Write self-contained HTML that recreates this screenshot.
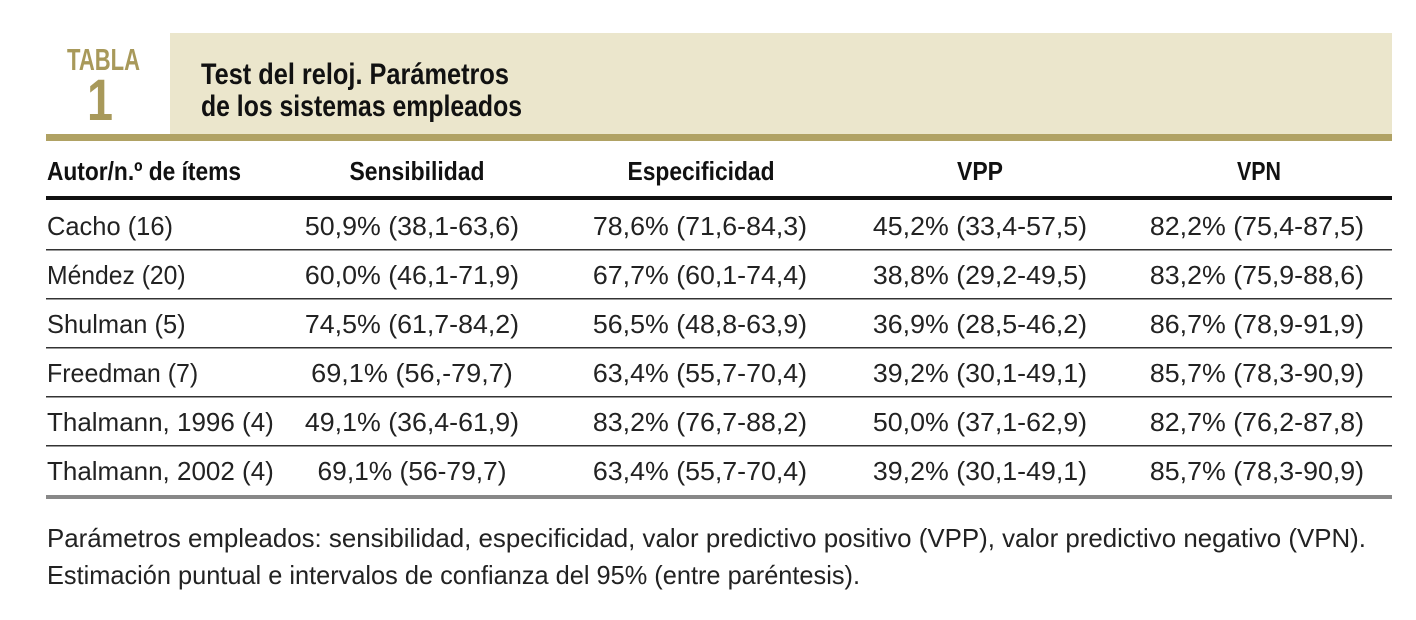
<!DOCTYPE html>
<html><head><meta charset="utf-8">
<style>
html,body{margin:0;padding:0;background:#fff;}
svg{display:block;}
text{font-family:"Liberation Sans",sans-serif;}
</style></head>
<body>
<svg width="1416" height="620" viewBox="0 0 1416 620">
  <rect x="170" y="33" width="1222" height="102" fill="#ebe6cc"/>
  <rect x="46" y="134" width="1346" height="7" fill="#b0a264"/>
  <text x="67" y="70" font-size="31" font-weight="bold" fill="#a8995a" textLength="73" lengthAdjust="spacingAndGlyphs">TABLA</text>
  <text x="100" y="120" font-size="58" font-weight="bold" fill="#a8995a" text-anchor="middle" textLength="26" lengthAdjust="spacingAndGlyphs">1</text>
  <text x="201" y="84" font-size="30" font-weight="bold" fill="#111" textLength="308" lengthAdjust="spacingAndGlyphs">Test del reloj. Parámetros</text>
  <text x="201" y="116" font-size="30" font-weight="bold" fill="#111" textLength="321" lengthAdjust="spacingAndGlyphs">de los sistemas empleados</text>

  <g font-size="26" font-weight="bold" fill="#111">
    <text x="47" y="180" textLength="194" lengthAdjust="spacingAndGlyphs">Autor/n.º de ítems</text>
    <text x="417" y="180" text-anchor="middle" textLength="135" lengthAdjust="spacingAndGlyphs">Sensibilidad</text>
    <text x="701" y="180" text-anchor="middle" textLength="147" lengthAdjust="spacingAndGlyphs">Especificidad</text>
    <text x="980" y="180" text-anchor="middle" textLength="46" lengthAdjust="spacingAndGlyphs">VPP</text>
    <text x="1259" y="180" text-anchor="middle" textLength="44" lengthAdjust="spacingAndGlyphs">VPN</text>
  </g>
  <rect x="46" y="196" width="1346" height="4" fill="#111"/>

  <g id="rows" font-size="26" fill="#222"></g>
  <rect x="46" y="495" width="1346" height="4" fill="#888"/>

  <text x="47" y="547" font-size="26" fill="#222" textLength="1319" lengthAdjust="spacingAndGlyphs">Parámetros empleados: sensibilidad, especificidad, valor predictivo positivo (VPP), valor predictivo negativo (VPN).</text>
  <text x="47" y="584" font-size="26" fill="#222" textLength="813" lengthAdjust="spacingAndGlyphs">Estimación puntual e intervalos de confianza del 95% (entre paréntesis).</text>
</svg>
<script>
const authors = ["Cacho (16)","Méndez (20)","Shulman (5)","Freedman (7)","Thalmann, 1996 (4)","Thalmann, 2002 (4)"];
const sensibilidad = ["50,9% (38,1-63,6)","60,0% (46,1-71,9)","74,5% (61,7-84,2)","69,1% (56,-79,7)","49,1% (36,4-61,9)","69,1% (56-79,7)"];
const especificidad = ["78,6% (71,6-84,3)","67,7% (60,1-74,4)","56,5% (48,8-63,9)","63,4% (55,7-70,4)","83,2% (76,7-88,2)","63,4% (55,7-70,4)"];
const vpp = ["45,2% (33,4-57,5)","38,8% (29,2-49,5)","36,9% (28,5-46,2)","39,2% (30,1-49,1)","50,0% (37,1-62,9)","39,2% (30,1-49,1)"];
const vpn = ["82,2% (75,4-87,5)","83,2% (75,9-88,6)","86,7% (78,9-91,9)","85,7% (78,3-90,9)","82,7% (76,2-87,8)","85,7% (78,3-90,9)"];
const NS="http://www.w3.org/2000/svg";
const g=document.getElementById('rows');
const top0=200, rowH=49;
const cols=[[sensibilidad,412,'sensibilidad'],[especificidad,700,'especificidad'],[vpp,980,'vpp'],[vpn,1257,'vpn']];
authors.forEach((a,i)=>{
  const base=top0+rowH*i+35;
  const t=document.createElementNS(NS,'text');
  t.setAttribute('x',47);t.setAttribute('y',base);t.textContent=a;
  t.setAttribute('textLength',a.length*12.6);t.setAttribute('lengthAdjust','spacingAndGlyphs');
  
  
  g.appendChild(t);
  cols.forEach(([arr,cx,nm])=>{
    const c=document.createElementNS(NS,'text');
    c.setAttribute('x',cx);c.setAttribute('y',base);c.setAttribute('text-anchor','middle');
    c.setAttribute('textLength',arr[i].length*12.6);c.setAttribute('lengthAdjust','spacingAndGlyphs');
    c.textContent=arr[i];
    
    
    g.appendChild(c);
  });
  if(i<authors.length-1){
    const r=document.createElementNS(NS,'rect');
    r.setAttribute('x',46);r.setAttribute('y',top0+rowH*(i+1));r.setAttribute('width',1346);r.setAttribute('height',1.5);r.setAttribute('fill','#333');
    
    
    g.appendChild(r);
  }
});
</script>
</body></html>
